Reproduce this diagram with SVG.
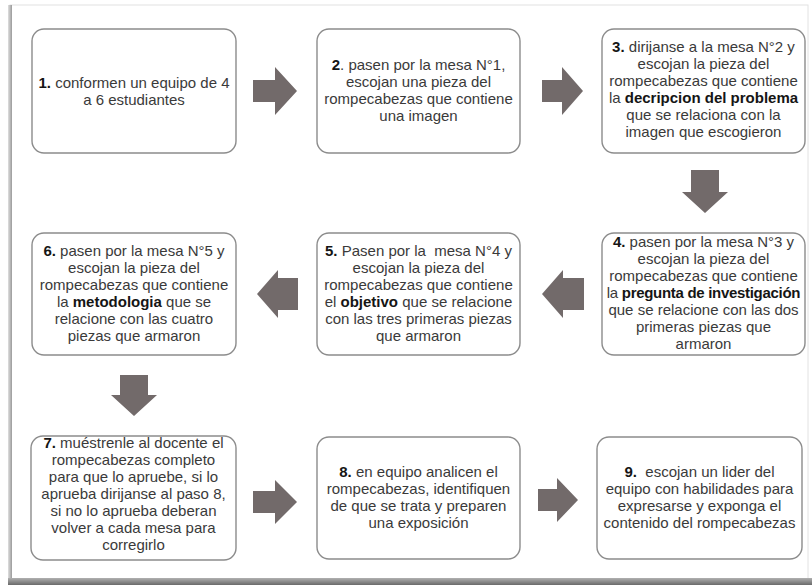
<svg xmlns="http://www.w3.org/2000/svg" width="812" height="585" viewBox="0 0 812 585">
<defs>
<linearGradient id="bot" x1="0" y1="0" x2="0" y2="1">
<stop offset="0" stop-color="#b0b0b0"/>
<stop offset="1" stop-color="#6a6a6a"/>
</linearGradient>
<linearGradient id="lft" x1="0" y1="0" x2="1" y2="0">
<stop offset="0" stop-color="#e0e0e0"/>
<stop offset="1" stop-color="#9a9a9a"/>
</linearGradient>
</defs>
<style>
.box{fill:#fff;stroke:#8c8c8c;stroke-width:1.4}
.t{font-family:"Liberation Sans",Arial,sans-serif;font-size:15px;fill:#3a3a3a;text-anchor:middle}
.b{font-weight:bold;fill:#151515}
.arr{fill:#726a6a}
</style>
<rect x="0" y="0" width="812" height="585" fill="#fff"/>
<rect x="10" y="5" width="798" height="575" fill="#fff" stroke="#e2e2e2" stroke-width="1"/>
<rect x="8" y="5" width="4" height="576" fill="url(#lft)"/>
<rect x="8" y="578" width="804" height="7" fill="url(#bot)"/>

<g id="connectors">
<polygon class="arr" points="253,80 275,80 275,67 297,91 275,115 275,102 253,102"/>
<polygon class="arr" points="542,80 562,80 562,67 583,91 562,115 562,102 542,102"/>
<polygon class="arr" points="691,170 719,170 719,192 728,192 705,213 682,192 691,192"/>
<polygon class="arr" points="584,278 563,278 563,270 542,294 563,318 563,310 584,310"/>
<polygon class="arr" points="298,278 278,278 278,270 257,294 278,318 278,310 298,310"/>
<polygon class="arr" points="120,375 148,375 148,395 157,395 134,416 111,395 120,395"/>
<polygon class="arr" points="253,491 275,491 275,480 297,502 275,524 275,513 253,513"/>
<polygon class="arr" points="538,489 557,489 557,478 578,500 557,522 557,511 538,511"/>
</g>

<g id="node1">
<rect class="box" x="32" y="29" width="204" height="124" rx="12"/>
<text class="t" y="88"><tspan x="134"><tspan class="b">1.</tspan> conformen un equipo de 4</tspan><tspan x="134" dy="17">a 6 estudiantes</tspan></text>
</g>

<g id="node2">
<rect class="box" x="317" y="29" width="203" height="124" rx="12"/>
<text class="t" y="70"><tspan x="418.5"><tspan class="b">2</tspan>. pasen por la mesa N°1,</tspan><tspan x="418.5" dy="17">escojan una pieza del</tspan><tspan x="418.5" dy="17">rompecabezas que contiene</tspan><tspan x="418.5" dy="17">una imagen</tspan></text>
</g>

<g id="node3">
<rect class="box" x="602" y="29" width="203" height="124" rx="12"/>
<text class="t" y="52"><tspan x="703.5"><tspan class="b">3.</tspan> dirijanse a la mesa N°2 y</tspan><tspan x="703.5" dy="17">escojan la pieza del</tspan><tspan x="703.5" dy="17">rompecabezas que contiene</tspan><tspan x="703.5" dy="17">la <tspan class="b">decripcion del problema</tspan></tspan><tspan x="703.5" dy="17">que se relaciona con la</tspan><tspan x="703.5" dy="17">imagen que escogieron</tspan></text>
</g>

<g id="node4">
<rect class="box" x="602" y="233" width="203" height="122" rx="12"/>
<text class="t" y="247"><tspan x="703.5"><tspan class="b">4.</tspan> pasen por la mesa N°3 y</tspan><tspan x="703.5" dy="17">escojan la pieza del</tspan><tspan x="703.5" dy="17">rompecabezas que contiene</tspan><tspan x="703.5" dy="17" letter-spacing="-0.3">la <tspan class="b">pregunta de investigación</tspan></tspan><tspan x="703.5" dy="17">que se relacione con las dos</tspan><tspan x="703.5" dy="17">primeras piezas que</tspan><tspan x="703.5" dy="17">armaron</tspan></text>
</g>

<g id="node5">
<rect class="box" x="317" y="233" width="203" height="122" rx="12"/>
<text class="t" y="256"><tspan x="418.5"><tspan class="b">5.</tspan> Pasen por la&#160; mesa N°4 y</tspan><tspan x="418.5" dy="17">escojan la pieza del</tspan><tspan x="418.5" dy="17">rompecabezas que contiene</tspan><tspan x="418.5" dy="17">el <tspan class="b">objetivo</tspan> que se relacione</tspan><tspan x="418.5" dy="17">con las tres primeras piezas</tspan><tspan x="418.5" dy="17">que armaron</tspan></text>
</g>

<g id="node6">
<rect class="box" x="32" y="233" width="204" height="122" rx="12"/>
<text class="t" y="256"><tspan x="134"><tspan class="b">6.</tspan> pasen por la mesa N°5 y</tspan><tspan x="134" dy="17">escojan la pieza del</tspan><tspan x="134" dy="17">rompecabezas que contiene</tspan><tspan x="134" dy="17">la <tspan class="b">metodologia</tspan> que se</tspan><tspan x="134" dy="17">relacione con las cuatro</tspan><tspan x="134" dy="17">piezas que armaron</tspan></text>
</g>

<g id="node7">
<rect class="box" x="31" y="436" width="205" height="124" rx="12"/>
<text class="t" y="448"><tspan x="133.5"><tspan class="b">7.</tspan> muéstrenle al docente el</tspan><tspan x="133.5" dy="17">rompecabezas completo</tspan><tspan x="133.5" dy="17">para que lo apruebe, si lo</tspan><tspan x="133.5" dy="17">aprueba dirijanse al paso 8,</tspan><tspan x="133.5" dy="17">si no lo aprueba deberan</tspan><tspan x="133.5" dy="17">volver a cada mesa para</tspan><tspan x="133.5" dy="17">corregirlo</tspan></text>
</g>

<g id="node8">
<rect class="box" x="317" y="437" width="203" height="122" rx="12"/>
<text class="t" y="477"><tspan x="418.5"><tspan class="b">8.</tspan> en equipo analicen el</tspan><tspan x="418.5" dy="17">rompecabezas, identifiquen</tspan><tspan x="418.5" dy="17">de que se trata y preparen</tspan><tspan x="418.5" dy="17">una exposición</tspan></text>
</g>

<g id="node9">
<rect class="box" x="597" y="437" width="205" height="122" rx="12"/>
<text class="t" y="477"><tspan x="699.5"><tspan class="b">9.</tspan>&#160; escojan un lider del</tspan><tspan x="699.5" dy="17">equipo con habilidades para</tspan><tspan x="699.5" dy="17">expresarse y exponga el</tspan><tspan x="699.5" dy="17">contenido del rompecabezas</tspan></text>
</g>
</svg>
